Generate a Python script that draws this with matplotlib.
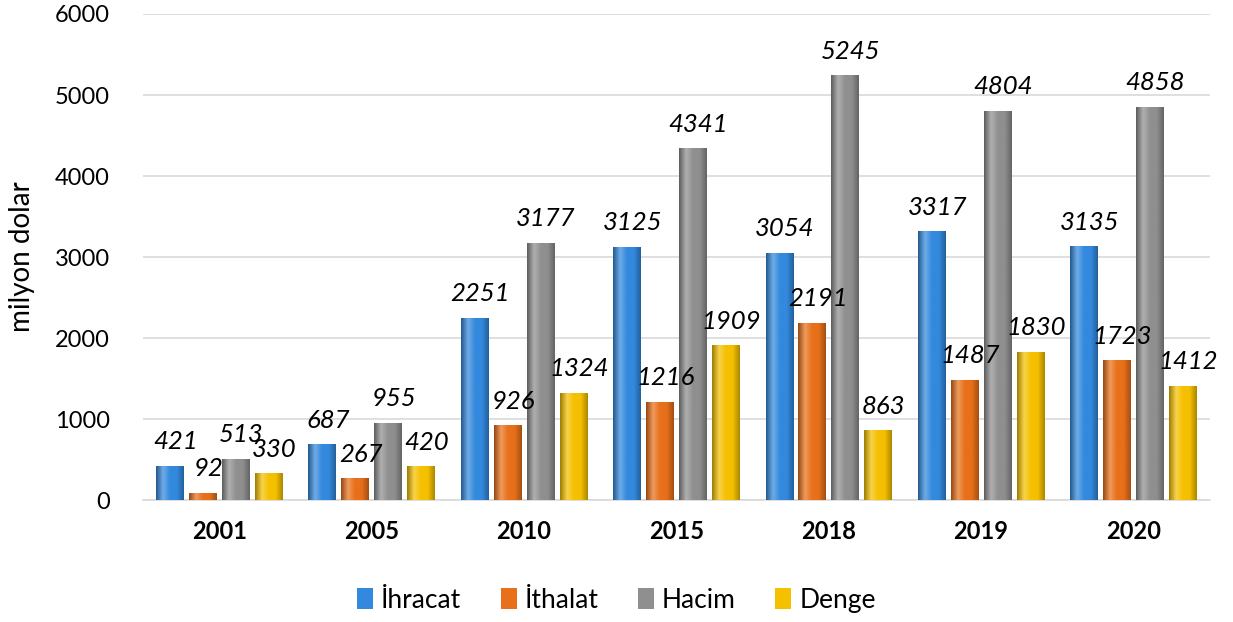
import numpy as np
import matplotlib.pyplot as plt
from matplotlib.colors import LinearSegmentedColormap, to_rgb
from matplotlib.patches import Patch

years = ["2001", "2005", "2010", "2015", "2018", "2019", "2020"]
series = ["İhracat", "İthalat", "Hacim", "Denge"]
ihracat = [421, 687, 2251, 3125, 3054, 3317, 3135]
ithalat = [92, 267, 926, 1216, 2191, 1487, 1723]
hacim = [513, 955, 3177, 4341, 5245, 4804, 4858]
denge = [330, 420, 1324, 1909, 863, 1830, 1412]
colors = ["#3389dd", "#e8701a", "#8f8f8f", "#f5c000"]

plt.rcParams["font.family"] = ["Lato", "DejaVu Sans"]

fig = plt.figure(figsize=(12.33, 6.22), dpi=100)
ax = fig.add_axes([0.116, 0.196, 0.865, 0.7815])

x = np.arange(len(years))
width = 0.18
step = 0.216


def shade(c, f):
    r = np.array(to_rgb(c))
    if f >= 0:
        return tuple(r + (1 - r) * f)
    return tuple(r * (1 + f))


for i, (vals, c) in enumerate(zip([ihracat, ithalat, hacim, denge], colors)):
    cmap = LinearSegmentedColormap.from_list(
        "g", [shade(c, -0.35), shade(c, 0.3), c, c, shade(c, -0.3)])
    grad = np.linspace(0, 1, 64).reshape(1, -1)
    bars = ax.bar(x + (i - 1.5) * step, vals, width, color=c, zorder=2)
    for b, v in zip(bars, vals):
        x0, w, h = b.get_x(), b.get_width(), b.get_height()
        im = ax.imshow(grad, cmap=cmap, aspect="auto", extent=[x0, x0 + w, 0, h],
                       zorder=3, interpolation="bicubic")
        im.set_clip_path(b)
        ax.annotate(f"{v}", (x0 + w / 2, h), xytext=(4, 9), textcoords="offset points",
                    ha="center", va="bottom", fontsize=18.5, style="italic", zorder=5)

ax.set_xlim(-0.5, len(years) - 0.5)
ax.set_ylim(0, 6000)
ax.set_yticks(range(0, 6001, 1000))
ax.set_xticks(x)
ax.set_xticklabels(years, fontweight="bold", fontsize=17)
ax.tick_params(axis="y", labelsize=17, length=0, pad=24)
ax.tick_params(axis="x", length=0, pad=14)
ax.grid(axis="y", color="#d9d9d9", linewidth=1.2, zorder=0)
ax.set_axisbelow(True)
for s in ["top", "right", "left"]:
    ax.spines[s].set_visible(False)
ax.spines["bottom"].set_color("#d9d9d9")
ax.spines["bottom"].set_linewidth(1.2)
ax.set_ylabel("milyon dolar", fontsize=20, labelpad=14)

handles = [Patch(facecolor=c, label=s) for c, s in zip(colors, series)]
fig.legend(handles=handles, loc="center", bbox_to_anchor=(0.5, 0.035), ncol=4,
           frameon=False, fontsize=19, handlelength=0.6, handleheight=0.8,
           handletextpad=0.3, columnspacing=1.5)

fig.savefig("out.png", dpi=100)
